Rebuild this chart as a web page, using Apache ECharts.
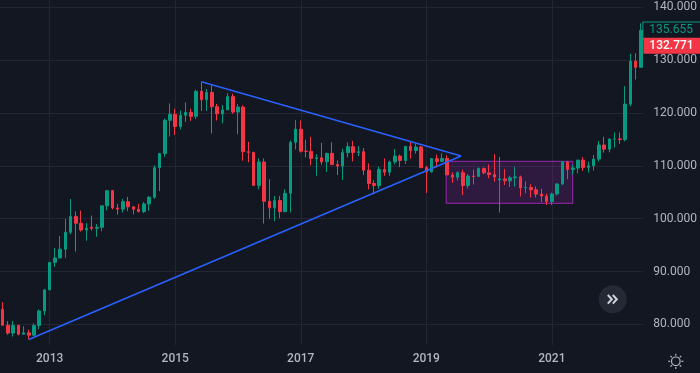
<!DOCTYPE html>
<html><head><meta charset="utf-8">
<style>html,body{margin:0;padding:0;background:#131722;}#c{width:700px;height:373px;}</style>
<script src="https://cdn.jsdelivr.net/npm/echarts@6/dist/echarts.min.js"></script>
</head><body><div id="c"></div>
<script>
// Monthly candles, first candle = April 2012
const firstMonth = [2012, 4];
const opens = [
  82.85, 79.82, 78.34, 79.79, 78.12, 78.39, 77.94, 79.78, 82.52,
  86.52, 91.73, 92.56, 94.22, 97.44, 100.45, 99.14, 97.87, 98.40, 98.18, 98.36, 102.44,
  105.31, 102.03, 101.81, 103.22, 102.25, 101.79, 101.33, 102.80, 104.07, 109.64, 112.35, 118.64,
  119.78, 117.46, 119.59, 120.13, 119.38, 124.12, 122.51, 123.91, 121.22, 119.86, 120.62, 123.12,
  120.20, 121.14, 112.69, 112.56, 106.31, 110.73, 103.30, 102.06, 103.43, 101.35, 104.80, 114.46,
  116.96, 112.79, 112.76, 111.39, 111.53, 110.77, 112.38, 110.25, 109.96, 112.51, 113.64, 112.53,
  112.69, 109.18, 106.67, 106.28, 109.34, 108.81, 110.76, 111.86, 111.03, 113.69, 112.92, 113.57,
  109.69, 108.88, 111.38, 110.85, 111.42, 108.29, 107.86, 108.72, 106.28, 108.07, 108.01, 109.51,
  108.68, 108.35, 107.37, 107.54, 107.17, 107.77, 107.93, 105.83, 105.90, 105.48, 104.66, 104.30,
  103.25, 104.68, 106.58, 110.72, 109.31, 109.59, 111.10, 109.71, 110.02, 111.29, 113.96, 113.17,
  115.08, 115.11, 114.99, 121.70, 129.84, 128.67
];
const highs = [
  84.18, 80.60, 80.62, 79.94, 79.65, 78.97, 80.21, 82.84, 86.64,
  91.74, 94.46, 96.71, 99.95, 103.73, 101.38, 101.53, 99.15, 100.61, 99.00, 102.44, 105.41,
  105.45, 102.82, 103.76, 104.13, 102.36, 102.80, 103.15, 104.26, 110.09, 112.47, 118.98, 121.85,
  120.83, 120.48, 122.03, 120.85, 124.46, 125.86, 124.58, 125.28, 121.75, 121.50, 123.76, 123.68,
  121.69, 121.49, 114.55, 112.67, 111.45, 111.41, 107.49, 104.32, 104.32, 105.54, 114.83, 118.66,
  118.61, 114.95, 115.51, 112.20, 114.37, 112.47, 114.49, 111.05, 113.26, 114.45, 114.73, 113.75,
  113.39, 110.48, 107.29, 109.84, 111.40, 111.00, 113.18, 112.16, 113.70, 114.55, 114.21, 113.82,
  110.00, 111.49, 112.14, 112.40, 112.00, 108.80, 109.00, 109.31, 108.48, 109.29, 109.73, 109.72,
  110.29, 112.23, 111.71, 109.38, 108.08, 109.85, 108.16, 107.05, 106.55, 106.11, 105.68, 104.75,
  104.94, 106.70, 110.97, 110.96, 110.20, 111.11, 111.66, 110.80, 112.08, 114.70, 115.52, 115.20,
  116.35, 116.34, 125.09, 131.25, 131.35, 137.00
];
const lows = [
  79.79, 78.00, 77.66, 77.90, 78.03, 77.13, 77.80, 79.05, 81.70,
  86.50, 90.86, 92.56, 92.57, 97.03, 93.79, 97.57, 95.81, 97.75, 96.56, 97.63, 101.59,
  101.77, 100.76, 101.20, 101.43, 100.82, 101.24, 101.07, 101.51, 103.76, 105.22, 111.73, 115.55,
  115.85, 116.91, 118.33, 118.54, 118.87, 120.41, 120.42, 116.15, 118.60, 118.06, 120.56, 119.87,
  115.98, 110.98, 110.67, 106.29, 105.54, 99.09, 99.99, 99.54, 100.09, 101.20, 101.19, 113.12,
  112.52, 111.59, 110.11, 108.13, 110.24, 108.82, 110.62, 108.27, 107.32, 111.65, 110.84, 111.88,
  108.28, 105.55, 104.63, 105.67, 108.12, 108.12, 110.28, 109.77, 110.37, 111.38, 112.30, 109.55,
  104.87, 108.72, 109.70, 110.84, 108.28, 106.78, 107.21, 104.46, 105.74, 106.48, 107.89, 108.42,
  107.65, 107.00, 101.18, 106.36, 105.99, 106.07, 104.19, 104.80, 104.00, 104.03, 103.18, 102.59,
  102.59, 104.40, 106.37, 107.48, 108.34, 108.57, 109.06, 108.72, 109.11, 110.82, 112.53, 112.56,
  113.47, 114.16, 114.65, 121.28, 126.36, 128.64
];
const closes = [
  79.82, 78.34, 79.79, 78.12, 78.39, 77.94, 79.78, 82.52, 86.52,
  91.73, 92.56, 94.22, 97.44, 100.45, 99.14, 97.87, 98.18, 98.18, 98.36, 102.44, 105.31,
  102.03, 101.81, 103.22, 102.25, 101.79, 101.33, 102.80, 104.07, 109.64, 112.35, 118.64, 119.78,
  117.46, 119.59, 120.13, 119.38, 124.12, 122.51, 123.91, 121.22, 119.86, 120.62, 123.12, 120.20,
  121.14, 112.69, 112.56, 106.31, 110.73, 103.30, 102.06, 103.43, 101.35, 104.80, 114.46, 116.96,
  112.79, 112.76, 111.39, 111.53, 110.77, 112.38, 110.25, 109.96, 112.51, 113.64, 112.53, 112.69,
  109.18, 106.67, 106.28, 109.34, 108.81, 110.76, 111.86, 111.03, 113.69, 112.92, 113.57, 109.69,
  108.88, 111.38, 110.85, 111.42, 108.29, 107.86, 108.72, 106.28, 108.07, 108.01, 109.51, 108.68,
  108.35, 107.89, 107.54, 107.17, 107.77, 107.93, 105.83, 105.90, 105.48, 104.66, 104.30, 103.25,
  104.68, 106.58, 110.72, 109.31, 109.59, 111.10, 109.71, 110.02, 111.29, 113.96, 113.17, 115.08,
  115.11, 114.99, 121.70, 129.84, 128.67, 135.655
];
const priceTicks = [80, 90, 100, 110, 120, 130, 140];
const yearTicks = ['2013', '2015', '2017', '2019', '2021'];
const lastPrice = 135.655;
const refPrice = 132.771;
// drawings: [month index from first candle, price]
const triangleUpper = [[38, 125.95], [87.66, 111.87]];
const triangleLower = [[5, 77.13], [87.66, 111.87]];
const rangeBox = [[84.8, 110.87], [109.0, 102.92]];

const months = [];
for (let i = 0; i < opens.length; i++) {
  const m0 = firstMonth[1] - 1 + i;
  months.push((firstMonth[0] + Math.floor(m0 / 12)) + '-' + String(m0 % 12 + 1).padStart(2, '0'));
}
const yearIdx = yearTicks.map(y => months.indexOf(y + '-01'));
const yearMonths = yearTicks.map(y => y + '-01');
const candles = opens.map((o, i) => [o, closes[i], lows[i], highs[i]]);

const UP = '#089981', DOWN = '#f23645', GRID = '#232632', TXT = '#b2b5be', BLUE = '#2962ff';
const FONT = 'Roboto';

const chart = echarts.init(document.getElementById('c'), null, {renderer: 'canvas'});
const sunRays = [];
for (let k = 0; k < 8; k++) {
  const a = k * Math.PI / 4;
  sunRays.push({type: 'line', shape: {x1: 675.8 + Math.cos(a) * 5.6, y1: 361.3 + Math.sin(a) * 5.6, x2: 675.8 + Math.cos(a) * 7.6, y2: 361.3 + Math.sin(a) * 7.6},
    style: {stroke: TXT, lineWidth: 1.2}, silent: true});
}
chart.setOption({
  backgroundColor: '#131722',
  animation: false,
  textStyle: {fontFamily: FONT},
  grid: {left: -0.4, right: 56.6, top: 0, bottom: 28, containLabel: false},
  xAxis: [{
    type: 'category', data: months, boundaryGap: true,
    axisLine: {show: false}, axisTick: {show: false}, splitLine: {show: false},
    axisLabel: {
      interval: (i, v) => yearMonths.indexOf(v) >= 0,
      formatter: v => v.slice(0, 4),
      color: TXT, fontSize: 12, fontWeight: 500, margin: 8, fontFamily: FONT
    }
  }, {
    type: 'value', position: 'top', min: -0.5, max: opens.length - 0.5,
    axisLine: {show: false}, axisLabel: {show: false},
    axisTick: {show: false, customValues: yearIdx},
    splitLine: {show: true, lineStyle: {color: GRID, width: 1}}
  }],
  yAxis: {
    type: 'value', position: 'right', min: 76.08, max: 141.42,
    axisLine: {show: false},
    axisTick: {show: false, customValues: priceTicks},
    axisLabel: {customValues: priceTicks, formatter: v => v.toFixed(3), color: TXT, fontSize: 12, margin: 10, fontFamily: FONT},
    splitLine: {show: true, lineStyle: {color: GRID, width: 1}}
  },
  series: [{
    type: 'line', xAxisIndex: 1, data: [], z: 1, silent: true,
    markArea: {silent: true,
      itemStyle: {color: 'rgba(156,39,176,0.2)', borderColor: '#9c27b0', borderWidth: 1},
      data: [[{coord: rangeBox[0]}, {coord: rangeBox[1]}]]}
  }, {
    type: 'candlestick', xAxisIndex: 0, data: candles, barWidth: 3, clip: false, z: 3, silent: true,
    itemStyle: {color: UP, color0: DOWN, borderColor: UP, borderColor0: DOWN, borderWidth: 1},
    markLine: {
      silent: true, symbol: 'none', animation: false,
      lineStyle: {color: 'rgba(0,0,0,0)', width: 0},
      data: [
        {yAxis: lastPrice, label: {show: true, position: 'end', distance: 0, formatter: lastPrice.toFixed(3),
          color: UP, backgroundColor: '#131722', borderColor: UP, borderWidth: 1, padding: [2, 7, 1, 6], fontSize: 12, lineHeight: 13, fontFamily: FONT}},
        {yAxis: refPrice, label: {show: true, position: 'end', distance: 0, formatter: refPrice.toFixed(3),
          color: '#ffffff', backgroundColor: DOWN, padding: [2, 7, 1, 6], fontSize: 12, lineHeight: 13, fontWeight: 500, fontFamily: FONT}}
      ]
    }
  }, {
    type: 'line', xAxisIndex: 1, data: triangleUpper, symbol: 'none', z: 4, silent: true,
    lineStyle: {color: BLUE, width: 1.5}
  }, {
    type: 'line', xAxisIndex: 1, data: triangleLower, symbol: 'none', z: 4, silent: true,
    lineStyle: {color: BLUE, width: 1.5}
  }],
  graphic: [
    {type: 'circle', shape: {cx: 612.7, cy: 299.3, r: 14}, style: {fill: '#252935'}, silent: true},
    {type: 'polyline', shape: {points: [[607.8, 295], [611.8, 299.3], [607.8, 303.6]]}, style: {stroke: '#d1d4dc', lineWidth: 2, fill: null}, silent: true},
    {type: 'polyline', shape: {points: [[612.8, 295], [616.8, 299.3], [612.8, 303.6]]}, style: {stroke: '#d1d4dc', lineWidth: 2, fill: null}, silent: true},
    {type: 'circle', shape: {cx: 675.8, cy: 361.3, r: 4.3}, style: {stroke: TXT, lineWidth: 1.2, fill: null}, silent: true}
  ].concat(sunRays)
});
</script></body></html>
